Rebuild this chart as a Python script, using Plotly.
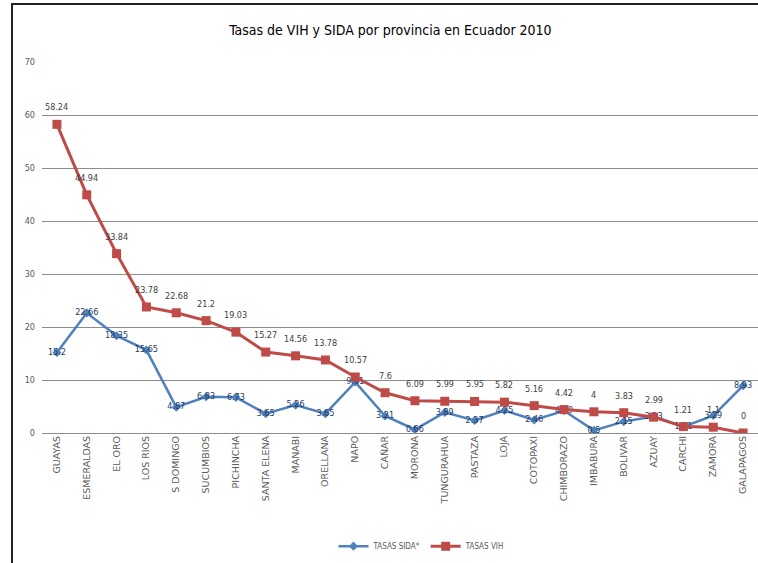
import plotly.graph_objects as go

provincias = ["GUAYAS", "ESMERALDAS", "EL ORO", "LOS RIOS", "S DOMINGO", "SUCUMBIOS",
              "PICHINCHA", "SANTA ELENA", "MANABI", "ORELLANA", "NAPO", "CAÑAR",
              "MORONA", "TUNGURAHUA", "PASTAZA", "LOJA", "COTOPAXI", "CHIMBORAZO",
              "IMBABURA", "BOLIVAR", "AZUAY", "CARCHI", "ZAMORA", "GALAPAGOS"]
tasas_sida = [15.2, 22.66, 18.35, 15.65, 4.87, 6.83, 6.73, 3.65, 5.26, 3.65, 9.61, 3.21,
              0.66, 3.89, 2.37, 4.25, 2.46, 4.19, 0.5, 2.15, 3.13, 1.21, 3.29, 8.93]
tasas_vih = [58.24, 44.94, 33.84, 23.78, 22.68, 21.2, 19.03, 15.27, 14.56, 13.78, 10.57, 7.6,
             6.09, 5.99, 5.95, 5.82, 5.16, 4.42, 4, 3.83, 2.99, 1.21, 1.1, 0]

FONT = "DejaVu Sans Condensed, Liberation Sans Narrow, sans-serif"
BLUE = "#4f81bd"
RED = "#be4b48"

fig = go.Figure()
fig.add_trace(go.Scatter(
    x=provincias, y=tasas_sida, name="TASAS SIDA*", mode="lines+markers+text",
    line=dict(color=BLUE, width=2.5), marker=dict(symbol="diamond", size=7, color=BLUE),
    text=[str(v) for v in tasas_sida], textposition="middle center",
    textfont=dict(family=FONT, size=9, color="#1f3864"),
))
fig.add_trace(go.Scatter(
    x=provincias, y=tasas_vih, name="TASAS VIH", mode="lines+markers",
    line=dict(color=RED, width=3), marker=dict(symbol="square", size=9, color=RED),
))

annotations = [dict(x=p, y=v, xref="x", yref="y", text=str(v), showarrow=False,
                    yshift=17, font=dict(family=FONT, size=9, color="#404040"))
               for p, v in zip(provincias, tasas_vih)]

fig.update_layout(
    width=758, height=563,
    margin=dict(l=42, r=0, t=62, b=130),
    paper_bgcolor="white", plot_bgcolor="white",
    font=dict(family=FONT, color="#595959"),
    title=dict(text="Tasas de VIH y SIDA por provincia en Ecuador 2010",
               x=0.515, xanchor="center", y=0.947, yanchor="middle",
               font=dict(family=FONT, size=14, color="#000000")),
    showlegend=True,
    legend=dict(orientation="h", x=0.53, xanchor="center", y=-0.305, yanchor="middle",
                font=dict(family=FONT, size=8, color="#595959"), itemwidth=30),
    annotations=annotations,
    shapes=[dict(type="rect", xref="paper", yref="paper",
                 x0=-0.0419, x1=1.02, y0=-0.5, y1=1.156,
                 line=dict(color="#222222", width=2), layer="below")],
)
fig.update_xaxes(
    range=[-0.5, 23.5], tickangle=-90, showgrid=False, showline=False, ticks="",
    tickfont=dict(family="DejaVu Sans, sans-serif", size=9.5, color="#595959"),
)
fig.update_yaxes(
    range=[0, 70], dtick=10, showgrid=True, gridcolor="#8c8c8c", gridwidth=1,
    zeroline=True, zerolinecolor="#8c8c8c", zerolinewidth=1, showline=False,
    tickfont=dict(family=FONT, size=9, color="#595959"), ticks="", ticklabelstandoff=6,
)

fig.write_html("out.html", config={"displayModeBar": False},
               post_script="document.body.style.margin='0';")
